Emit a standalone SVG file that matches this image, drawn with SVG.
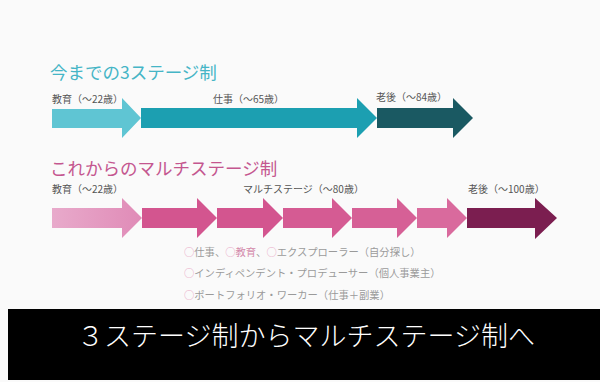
<svg xmlns="http://www.w3.org/2000/svg" width="600" height="382" viewBox="0 0 600 382">
<defs>
<linearGradient id="g1" x1="0" y1="0" x2="1" y2="0">
<stop offset="0" stop-color="#e8aacb"/>
<stop offset="1" stop-color="#e08bb7"/>
</linearGradient>
<style>
text{font-family:"Noto Sans CJK JP","Noto Sans",sans-serif;}
.t1{font-size:17.5px;fill:#45b5c6;}
.t2{font-size:17.5px;fill:#c4568f;}
.lb{font-size:10px;fill:#555;}
.sub{font-size:10.3px;fill:#9a9a9a;}
.ci{fill:#e9a8c6;}
.pk{fill:#d48aab;}
.ban{font-size:27px;fill:#fff;font-weight:300;}
</style>
</defs>
<rect x="0" y="0" width="600" height="382" fill="#fafafa"/>
<g id="title-old"><text class="t1" x="50" y="79">今までの3ステージ制</text></g>
<g id="title-new"><text class="t2" x="50" y="175">これからのマルチステージ制</text></g>
<g id="connectors">
<g id="old-edu"><polygon fill="#5fc5d3" points="52,109 122,109 122,98 141,118 122,138 122,128 52,128"/><text class="lb" x="52" y="103">教育（〜22歳）</text></g>
<g id="old-work"><polygon fill="#1c9fb1" points="141,108 357,108 357,98 377,118 357,138 357,128 141,128"/><text class="lb" x="213" y="103">仕事（〜65歳）</text></g>
<g id="old-retire"><polygon fill="#1a5962" points="377,108 453,108 453,98 473,118 453,138 453,128 377,128"/><text class="lb" x="376" y="101">老後（〜84歳）</text></g>
<g id="new-edu"><polygon fill="url(#g1)" points="52,208 122,208 122,198 142,218 122,238 122,228 52,228"/><text class="lb" x="52" y="193">教育（〜22歳）</text></g>
<g id="new-multi">
<polygon fill="#d3558f" points="142,208 197,208 197,198 217,218 197,238 197,228 142,228"/>
<polygon fill="#d3558f" points="217,208 263,208 263,198 283,218 263,238 263,228 217,228"/>
<polygon fill="#d55b93" points="283,208 332,208 332,198 352,218 332,238 332,228 283,228"/>
<polygon fill="#d66096" points="352,208 397,208 397,198 417,218 397,238 397,228 352,228"/>
<polygon fill="#d96a9d" points="417,208 447,208 447,198 467,218 447,238 447,228 417,228"/>
<text class="lb" x="243" y="193">マルチステージ（〜80歳）</text>
</g>
<g id="new-retire"><polygon fill="#7b1e50" points="467,208 535,208 535,198 557,218 535,239 535,228 467,228"/><text class="lb" x="468" y="193">老後（〜100歳）</text></g>
</g>
<g id="notes">
<text class="sub" x="184" y="256"><tspan class="ci">○</tspan>仕事、<tspan class="ci">○</tspan><tspan class="pk">教育</tspan>、<tspan class="ci">○</tspan>エクスプローラー（自分探し）</text>
<text class="sub" x="184" y="277"><tspan class="ci">○</tspan>インディペンデント・プロデューサー（個人事業主）</text>
<text class="sub" x="184" y="299"><tspan class="ci">○</tspan>ポートフォリオ・ワーカー（仕事＋副業）</text>
</g>
<g id="banner">
<rect x="8" y="309" width="592" height="71" fill="#000"/>
<text class="ban" x="306" y="346" text-anchor="middle">３ステージ制からマルチステージ制へ</text>
</g>
</svg>
